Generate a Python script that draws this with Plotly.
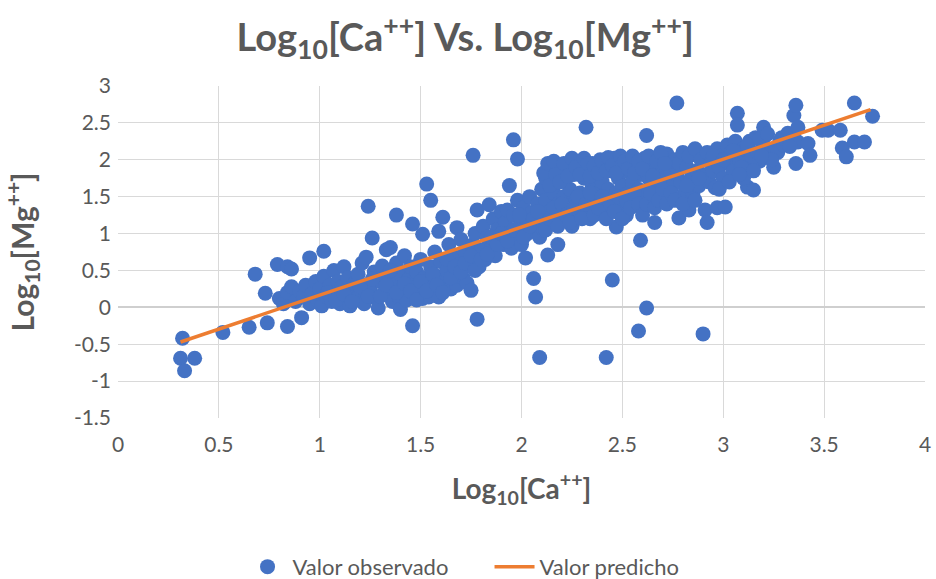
import plotly.graph_objects as go

obs_x = [
    0.31, 0.32, 0.33, 0.38, 0.52, 0.65, 0.74, 0.84, 0.91, 0.68, 0.73, 0.79, 0.84, 0.86, 0.95, 1.02,
    0.80, 0.82, 0.84, 0.86, 0.88, 0.90, 0.92, 0.93, 0.95, 0.96, 0.98, 0.99, 1.00, 1.01, 1.02, 1.03,
    1.05, 1.06, 1.07, 1.08, 1.09, 1.10, 1.11, 1.12, 1.13, 1.14, 1.15, 1.16, 1.17, 1.18, 1.19, 1.20,
    1.21, 1.22, 1.23, 1.24, 1.26, 1.22, 1.25, 1.27, 1.28, 1.29, 1.30, 1.31, 1.32, 1.33, 1.34, 1.35,
    1.36, 1.37, 1.38, 1.38, 1.39, 1.40, 1.40, 1.41, 1.42, 1.43, 1.44, 1.45, 1.46, 1.46, 1.47, 1.48,
    1.49, 1.50, 1.51, 1.51, 1.52, 1.53, 1.54, 1.55, 1.55, 1.56, 1.57, 1.58, 1.59, 1.59, 1.60, 1.61,
    1.62, 1.63, 1.64, 1.65, 1.66, 1.67, 1.68, 1.68, 1.69, 1.70, 1.71, 1.72, 1.73, 1.74, 1.75, 1.76,
    1.76, 1.77, 1.78, 1.78, 1.79, 1.80, 1.81, 1.82, 1.83, 1.84, 1.85, 1.86, 1.87, 1.88, 1.89, 1.90,
    1.91, 1.92, 1.93, 1.94, 1.94, 1.95, 1.96, 1.96, 1.97, 1.98, 1.98, 1.99, 2.00, 2.01, 2.02, 2.02,
    2.03, 2.04, 2.05, 2.06, 2.07, 2.07, 2.08, 2.09, 2.09, 2.10, 2.10, 2.11, 2.12, 2.12, 2.13, 2.14,
    2.15, 2.15, 2.16, 2.17, 2.18, 2.18, 2.19, 2.20, 2.20, 2.21, 2.22, 2.23, 2.24, 2.24, 2.25, 2.26,
    2.27, 2.28, 2.28, 2.29, 2.30, 2.30, 2.31, 2.32, 2.32, 2.33, 2.34, 2.35, 2.35, 2.36, 2.37, 2.38,
    2.39, 2.40, 2.40, 2.41, 2.42, 2.42, 2.43, 2.44, 2.45, 2.45, 2.46, 2.47, 2.47, 2.48, 2.49, 2.50,
    2.50, 2.51, 2.52, 2.53, 2.54, 2.55, 2.56, 2.57, 2.58, 2.58, 2.59, 2.59, 2.60, 2.61, 2.62, 2.62,
    2.62, 2.63, 2.64, 2.65, 2.66, 2.66, 2.67, 2.68, 2.69, 2.70, 2.71, 2.72, 2.73, 2.74, 2.75, 2.76,
    2.77, 2.77, 2.78, 2.78, 2.79, 2.80, 2.81, 2.82, 2.83, 2.83, 2.84, 2.85, 2.86, 2.87, 2.88, 2.89,
    2.90, 2.90, 2.91, 2.92, 2.92, 2.93, 2.94, 2.95, 2.96, 2.97, 2.97, 2.98, 2.99, 3.00, 3.01, 3.02,
    3.03, 3.04, 3.05, 3.06, 3.07, 3.07, 3.08, 3.10, 3.11, 3.12, 3.13, 3.14, 3.15, 3.16, 3.17, 3.18,
    3.20, 3.20, 3.22, 3.25, 3.26, 3.27, 3.28, 3.30, 3.32, 3.35, 3.36, 3.36, 3.37, 3.37, 3.42, 3.43,
    3.49, 3.52, 3.58, 3.59, 3.61, 3.65, 3.65, 3.70, 3.74,
    2.11, 2.13, 2.14, 2.16, 2.17, 2.19, 2.21, 2.23, 2.25, 2.27, 2.29, 2.31, 2.33, 2.34, 2.36, 2.38,
    2.40, 2.42, 2.43, 2.45, 2.47, 2.49, 2.51, 2.53, 2.55, 2.56, 2.58, 2.60, 2.63, 2.65, 2.67, 2.69,
    2.71,
    2.10, 2.12, 2.14, 2.16, 2.18, 2.20, 2.22, 2.24, 2.26, 2.28, 2.30, 2.32, 2.34, 2.36, 2.38, 2.40,
    2.42, 2.44, 2.46, 2.48, 2.50, 2.52, 2.54, 2.56, 2.58, 2.60, 2.62, 2.64, 2.66, 2.68, 2.70, 2.72,
    2.74, 2.76, 2.80, 2.82, 2.86, 2.88,
    1.04, 1.08, 1.12, 1.16, 1.20, 1.24, 1.26, 1.30, 1.33, 1.35, 1.38, 1.42, 1.45, 1.48, 1.50, 1.53,
    1.56, 1.58, 1.61, 1.63, 1.65, 1.67, 1.70, 1.72, 1.75, 1.77, 1.80, 1.83, 1.85, 1.88, 1.90, 1.93,
    1.96, 1.99, 2.01, 2.04, 2.06, 2.08,
    2.95, 3.00, 3.05, 3.09, 3.12, 3.18, 3.22, 3.24, 3.29, 3.33, 3.10, 3.15, 3.19, 2.98, 3.03, 3.08,
]
obs_y = [
    -0.69, -0.42, -0.86, -0.69, -0.34, -0.27, -0.21, -0.26, -0.14, 0.45, 0.19, 0.58, 0.55, 0.52, 0.67, 0.76,
    0.12, 0.05, 0.20, 0.28, 0.08, 0.22, 0.15, 0.30, 0.05, 0.18, 0.35, 0.10, 0.25, 0.02, 0.42, 0.15,
    0.30, 0.08, 0.50, 0.20, 0.35, 0.05, 0.28, 0.55, 0.14, 0.40, 0.02, 0.22, 0.32, 0.10, 0.45, 0.18,
    0.60, 0.05, 0.68, 1.37, 0.94, 0.30, 0.25, 0.48, 0.12, -0.01, 0.35, 0.56, 0.20, 0.78, 0.42, 0.81,
    0.08, 0.30, 1.25, 0.60, 0.15, -0.03, 0.45, 0.25, 0.70, 0.10, 0.38, 0.55, -0.25, 1.13, 0.20, 0.48,
    0.30, 0.65, 0.99, 0.12, 0.40, 1.67, 0.14, 1.45, 0.55, 0.28, 0.75, 0.42, 1.03, 0.14, 0.62, 1.22,
    0.35, 0.50, 0.85, 0.25, 0.70, 0.45, 0.30, 1.08, 0.58, 0.92, 0.40, 0.75, 0.33, 0.62, 0.23, 2.06,
    0.85, 1.00, -0.16, 1.32, 0.55, 0.78, 1.10, 0.65, 0.95, 1.39, 0.80, 1.20, 0.70, 1.05, 0.90, 1.30,
    0.85, 1.15, 1.32, 1.65, 1.00, 0.80, 2.27, 1.25, 0.95, 2.01, 1.45, 1.10, 0.85, 1.35, 0.67, 1.20,
    1.00, 1.50, 1.28, 0.39, 0.14, 1.10, 1.40, -0.68, 0.95, 1.60, 1.25, 1.05, 1.75, 1.45, 0.71, 1.30,
    1.85, 1.15, 1.55, 1.70, 0.85, 1.40, 1.90, 1.20, 1.75, 1.50, 1.85, 1.30, 1.95, 1.60, 1.10, 1.80,
    1.45, 1.90, 1.25, 1.55, 1.98, 1.35, 1.75, 2.44, 1.50, 1.85, 1.20, 1.95, 1.62, 1.40, 1.80, 1.55,
    2.00, 1.30, 1.70, 1.90, -0.68, 1.45, 1.60, 1.85, 0.37, 1.35, 2.02, 1.09, 1.55, 1.75, 1.95, 1.40,
    1.65, 1.85, 1.25, 1.55, 2.00, 1.70, 1.45, 1.90, -0.32, 1.60, 0.91, 1.80, 1.35, 2.02, 2.33, -0.01,
    1.55, 1.75, 1.95, 1.45, 1.15, 1.85, 1.65, 2.05, 1.55, 1.90, 1.75, 2.08, 1.50, 1.85, 1.65, 2.00,
    2.77, 1.80, 1.21, 1.95, 1.70, 2.10, 1.55, 1.90, 1.32, 2.05, 1.75, 1.55, 2.15, 1.85, 1.65, 2.00,
    -0.36, 1.80, 1.32, 1.15, 2.10, 1.70, 1.95, 1.85, 1.62, 1.35, 2.15, 1.90, 2.05, 1.75, 1.36, 2.20,
    1.95, 2.10, 1.85, 2.25, 2.63, 2.47, 2.00, 2.15, 1.95, 1.63, 2.25, 2.05, 1.59, 2.30, 2.10, 1.98,
    2.44, 2.20, 2.05, 1.90, 2.15, 2.10, 2.25, 2.20, 2.36, 2.60, 2.74, 1.95, 2.44, 2.24, 2.22, 2.06,
    2.40, 2.40, 2.40, 2.16, 2.04, 2.24, 2.77, 2.24, 2.59,
    1.82, 1.95, 1.65, 1.98, 1.80, 1.70, 1.95, 1.78, 2.02, 1.90, 1.80, 2.02, 1.95, 1.78, 1.92, 1.82,
    1.98, 1.85, 2.03, 1.92, 1.82, 2.05, 1.98, 1.88, 2.05, 1.82, 1.98, 1.88, 2.05, 1.78, 1.98, 2.10,
    1.95,
    1.15, 1.05, 1.20, 1.35, 1.10, 1.40, 1.25, 1.15, 1.35, 1.50, 1.20, 1.40, 1.55, 1.25, 1.35, 1.50,
    1.20, 1.40, 1.30, 1.50, 1.20, 1.45, 1.35, 1.55, 1.40, 1.25, 1.40, 1.55, 1.35, 1.45, 1.60, 1.40,
    1.55, 1.45, 1.40, 1.65, 1.45, 1.75,
    0.20, 0.10, 0.18, 0.08, 0.28, 0.15, 0.38, 0.15, 0.30, 0.50, 0.20, 0.32, 0.22, 0.10, 0.35, 0.22,
    0.45, 0.30, 0.20, 0.65, 0.40, 0.55, 0.48, 0.60, 0.70, 0.50, 0.65, 0.72, 0.95, 0.85, 1.00, 0.90,
    1.05, 1.25, 0.95, 1.10, 1.20, 1.30,
    2.05, 2.00, 2.12, 1.90, 2.20, 2.28, 2.35, 2.00, 2.30, 2.18, 1.75, 1.85, 2.05, 1.60, 1.70, 1.80,
]

# Predicted (regression) line endpoints
pred_x = [0.31, 3.73]
pred_y = [-0.47, 2.68]

x_ticks = [0, 0.5, 1, 1.5, 2, 2.5, 3, 3.5, 4]
x_tick_text = ["0", "0.5", "1", "1.5", "2", "2.5", "3", "3.5", "4"]
y_ticks = [-1.5, -1, -0.5, 0, 0.5, 1, 1.5, 2, 2.5, 3]
y_tick_text = ["-1.5", "-1", "-0.5", "0", "0.5", "1", "1.5", "2", "2.5", "3"]

GRAY = "#595959"
FONT = "Lato"

fig = go.Figure()
fig.add_trace(go.Scatter(
    x=obs_x, y=obs_y, mode="markers", name="Valor observado",
    marker=dict(color="#4472C4", size=15, line=dict(width=0)),
))
fig.add_trace(go.Scatter(
    x=pred_x, y=pred_y, mode="lines", name="Valor predicho",
    line=dict(color="#ED7D31", width=3.5),
))

fig.update_layout(
    width=936, height=579,
    margin=dict(l=118, r=11, t=86, b=161, autoexpand=False),
    paper_bgcolor="white", plot_bgcolor="white",
    font=dict(family=FONT, color=GRAY, size=20),
    title=dict(
        text="<b>Log<sub>10</sub>[Ca<sup>++</sup>] Vs. Log<sub>10</sub>[Mg<sup>++</sup>]</b>",
        x=0.497, xref="container", xanchor="center",
        y=0.935, yref="container", yanchor="middle",
        font=dict(family=FONT, size=38, color=GRAY),
    ),
    showlegend=True,
    legend=dict(
        orientation="h", x=0.523, xanchor="center", xref="container",
        y=0.021, yanchor="middle", yref="container",
        font=dict(family=FONT, size=22, color=GRAY),
        itemwidth=40, entrywidth=192, entrywidthmode="pixels",
    ),
)
fig.update_xaxes(
    range=[0, 4], tickvals=x_ticks, ticktext=x_tick_text,
    showgrid=True, gridcolor="#D9D9D9", gridwidth=1.3,
    zeroline=False, showline=False, ticks="",
    ticklabelstandoff=12,
    tickfont=dict(family=FONT, size=21, color=GRAY),
    title=dict(text="<b>Log<sub>10</sub>[Ca<sup>++</sup>]</b>", standoff=24,
               font=dict(family=FONT, size=28, color=GRAY)),
)
fig.update_yaxes(
    range=[-1.5, 3], tickvals=y_ticks, ticktext=y_tick_text,
    showgrid=True, gridcolor="#D9D9D9", gridwidth=1.3,
    zeroline=True, zerolinecolor="#CFCFCF", zerolinewidth=1.5,
    showline=False, ticks="",
    ticklabelstandoff=6,
    tickfont=dict(family=FONT, size=21, color=GRAY),
    title=dict(text="<b>Log<sub>10</sub>[Mg<sup>++</sup>]</b>", standoff=32,
               font=dict(family=FONT, size=30, color=GRAY)),
)

fig.write_html("out.html")
